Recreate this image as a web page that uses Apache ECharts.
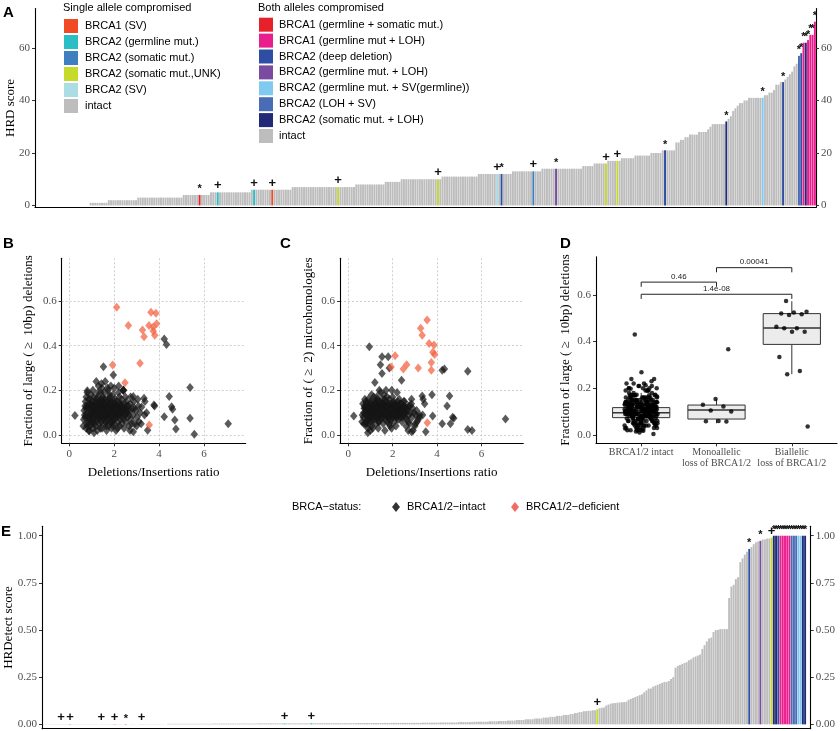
<!DOCTYPE html>
<html>
<head>
<meta charset="utf-8">
<title>HRD figure</title>
<script src="https://cdn.jsdelivr.net/npm/echarts@6.0.0/dist/echarts.min.js"></script>
<style>
html,body{margin:0;padding:0;background:#ffffff;}
#chart{width:840px;height:731px;}
</style>
</head>
<body>
<div id="chart"></div>
<script>
// ---------------- categories & colours ----------------
const singleKeys = ['or','cy','st','yl','lb','in'];
const singleLabels = ['BRCA1 (SV)','BRCA2 (germline mut.)','BRCA2 (somatic mut.)','BRCA2 (somatic mut.,UNK)','BRCA2 (SV)','intact'];
const bothKeys = ['r1','p1','dd','pu','sk','ls','nv','in'];
const bothLabels = ['BRCA1 (germline + somatic mut.)','BRCA1 (germline mut + LOH)','BRCA2 (deep deletion)','BRCA2 (germline mut. + LOH)','BRCA2 (germline mut. + SV(germline))','BRCA2 (LOH + SV)','BRCA2 (somatic mut. + LOH)','intact'];
const palette = {in:'#bdbdbd', or:'#f04b24', cy:'#2bbfc5', st:'#3d7fbf', yl:'#c6da2c', lb:'#abdde5',
                 r1:'#e6212a', p1:'#ea1d8d', dd:'#2f4da2', pu:'#7a4ba0', sk:'#80c9f0', ls:'#4a6cb4', nv:'#202a76'};

// ---------------- panel A : HRD score (runs: value, count, status, marker) ----------------
const hrdRuns = [
 [0,24],[1,8],[2,13],[3,20],
 [4,7],[4,1,'r1','*'],[4,4],
 [5,3],[5,1,'cy','+'],[5,14],
 [6,1],[6,1,'cy','+'],[6,7],[6,1,'or','+'],[6,8],
 [7,20],[7,1,'yl','+'],[7,7],
 [8,13],[9,7],
 [10,16],[10,1,'yl','+'],[10,1],
 [11,16],
 [12,8],[12,1,'lb','+'],[12,1],[12,1,'dd','*'],[12,4],
 [13,9],[13,1,'st','+'],[13,3],
 [14,6],[14,1,'pu','*'],[14,11],
 [15,5],[16,5],[16,1,'yl','+'],
 [17,4],[17,1,'yl','+'],[17,1],
 [18,6],[19,7],[20,5],
 [21,1],[21,1,'dd','*'],[21,4],
 [24,2],[25,2],[26,2],[27,4],[28,4],[29,1],[30,1],[31,6],[32,1,'nv','*'],
 [33,1],[34,1],[36,1],[37,1],[38,1],[39,2],[40,2],[41,6],[41,1,'sk','*'],
 [42,2],[43,2],[44,1],[46,2],[47,1],[47,1,'dd','*'],
 [48,1],[49,1],[50,1],[51,1],[53,1],[54,1],
 [57,1,'ls','*'],[58,1,'dd','*'],[62,1,'p1','*'],[62,1,'nv','*'],[63,1,'p1','*'],[65,2,'p1','*'],[70,1,'p1','*']
];
const hrdTicks = [0,20,40,60];

// ---------------- panel E : HRDetect score (runs) ----------------
const hrdetectRuns = [
 [0.001,8],[0.002,1,'yl','+'],[0.001,3],[0.002,1,'st','+'],[0.001,13],[0.002,1,'lb','+'],[0.001,5],[0.002,1,'or','+'],[0.001,4],[0.002,1,'r1','*'],[0.001,6],[0.002,1,'yl','+'],[0.001,11],
 [0.003,20],[0.004,20],[0.005,12],[0.005,1,'cy','+'],[0.005,11],[0.006,1,'cy','+'],[0.006,20],[0.007,15],[0.008,14],
 [0.009,8],[0.010,8],[0.012,7],[0.014,7],
 [0.016,4],[0.018,4],[0.020,4],[0.023,4],[0.027,4],[0.031,4],[0.036,3],[0.040,3],
 [0.045,3],[0.050,3],[0.055,2],[0.060,2],[0.065,2],
 [0.070,2],[0.072,2],[0.075,2],[0.080,1,'yl','+'],
 [0.085,1],[0.088,1],[0.090,1],[0.100,1],[0.105,1],[0.110,1],[0.112,1],[0.113,1],[0.115,1],[0.116,1],
 [0.117,1],[0.118,1],[0.120,1],[0.130,1],[0.135,1],[0.140,1],[0.145,1],[0.150,1],[0.155,1],
 [0.160,1],[0.170,1],[0.180,1],[0.190,2],[0.200,1],[0.205,1],[0.210,1],
 [0.215,1],[0.220,1],[0.225,2],[0.230,1],[0.240,1],[0.250,1],
 [0.300,1],[0.310,1],[0.315,1],[0.320,1],[0.325,1],[0.330,1],
 [0.340,1],[0.345,1],[0.355,1],[0.360,1],
 [0.365,1],[0.370,1],[0.400,1],[0.420,1],
 [0.440,1],[0.455,1],[0.460,1],
 [0.490,1],[0.500,2],[0.505,4],
 [0.670,1],[0.730,1],[0.740,1],[0.770,1],[0.780,1],[0.860,1],[0.880,1],[0.900,1],[0.915,1],
 [0.930,1,'dd','*'],[0.940,1],[0.955,1],[0.965,1],[0.970,1],[0.973,1,'pu','*'],[0.980,2],[0.985,2],[0.990,1,'yl','+'],
 [1,1,'nv','*'],[1,1,'nv','*'],[1,1,'dd','*'],[1,5,'p1','*'],[1,3,'ls','*'],[1,2,'sk','*'],[1,2,'nv','*']
];
const hrdetectSlots = 344;
const hrdetectTicks = [0,0.25,0.5,0.75,1];

// ---------------- panels B, C : [del/ins ratio, frac large del, frac microhomology, group] ----------------
const bcIntact = [
 [0.62,0.04,0.06],[0.66,0.11,0.14],[0.7,0.08,0.1],[0.72,0.15,0.12],[0.75,0.03,0.05],[0.78,0.13,0.09],[0.8,0.19,0.15],[0.82,0.06,0.12],[0.85,0.1,0.07],[0.86,0.16,0.11],
 [0.88,0.02,0.03],[0.9,0.12,0.16],[0.92,0.07,0.13],[0.94,0.14,0.08],[0.95,0.09,0.1],[0.97,0.18,0.12],[0.98,0.05,0.09],[1.0,0.11,0.14],[1.02,0.13,0.06],[1.03,0.08,0.11],
 [1.05,0.15,0.13],[1.06,0.03,0.04],[1.08,0.1,0.12],[1.1,0.17,0.09],[1.11,0.06,0.15],[1.13,0.12,0.1],[1.14,0.09,0.07],[1.16,0.14,0.12],[1.18,0.04,0.08],[1.19,0.11,0.13],
 [1.21,0.07,0.11],[1.22,0.16,0.14],[1.24,0.13,0.09],[1.25,0.02,0.05],[1.27,0.1,0.12],[1.28,0.19,0.17],[1.3,0.08,0.1],[1.31,0.12,0.08],[1.33,0.05,0.13],[1.34,0.15,0.11],
 [1.36,0.09,0.06],[1.37,0.11,0.15],[1.39,0.14,0.1],[1.4,0.06,0.09],[1.42,0.1,0.13],[1.43,0.23,0.12],[1.45,0.13,0.07],[1.46,0.03,0.11],[1.48,0.08,0.14],[1.49,0.17,0.1],
 [1.51,0.11,0.08],[1.52,0.07,0.12],[1.54,0.14,0.16],[1.55,0.09,0.1],[1.57,0.12,0.05],[1.58,0.05,0.11],[1.6,0.16,0.13],[1.61,0.1,0.09],[1.63,0.08,0.14],[1.64,0.13,0.1],
 [1.66,0.02,0.12],[1.67,0.11,0.07],[1.69,0.15,0.11],[1.7,0.07,0.15],[1.72,0.2,0.12],[1.73,0.09,0.09],[1.75,0.12,0.13],[1.76,0.04,0.06],[1.78,0.14,0.1],[1.79,0.1,0.14],
 [1.81,0.17,0.11],[1.82,0.06,0.08],[1.84,0.12,0.12],[1.85,0.09,0.16],[1.87,0.15,0.1],[1.88,0.03,0.04],[1.9,0.11,0.13],[1.91,0.08,0.09],[1.93,0.13,0.12],[1.94,0.18,0.07],
 [1.96,0.07,0.11],[1.97,0.1,0.14],[1.99,0.14,0.1],[2.0,0.05,0.08],[2.02,0.12,0.13],[2.03,0.16,0.11],[2.05,0.09,0.15],[2.06,0.11,0.06],[2.08,0.02,0.1],[2.09,0.13,0.12],
 [2.11,0.08,0.09],[2.12,0.15,0.14],[2.14,0.1,0.11],[2.16,0.06,0.13],[2.17,0.12,0.08],[2.19,0.19,0.12],[2.2,0.09,0.1],[2.22,0.14,0.15],[2.24,0.04,0.07],[2.25,0.11,0.12],
 [2.27,0.07,0.09],[2.29,0.13,0.13],[2.3,0.1,0.11],[2.32,0.16,0.1],[2.34,0.05,0.14],[2.36,0.12,0.08],[2.38,0.08,0.12],[2.4,0.2,0.11],[2.42,0.11,0.06],[2.44,0.03,0.1],
 [2.46,0.14,0.13],[2.48,0.09,0.09],[2.5,0.12,0.12],[2.53,0.06,0.15],[2.55,0.15,0.1],[2.58,0.1,0.08],[2.6,0.08,0.12],[2.63,0.13,0.07],[2.66,0.04,0.11],[2.7,0.11,0.13],
 [2.73,0.17,0.09],[2.76,0.07,0.05],[2.8,0.12,0.1],[2.84,0.09,0.14],[2.88,0.15,0.08],[2.92,0.05,0.02],[2.96,0.11,0.1],[3.02,0.08,0.05],[3.08,0.13,0.11],[3.15,0.1,0.07],
 [0.68,0.09,0.08],[0.74,0.12,0.13],[0.84,0.08,0.06],[0.96,0.1,0.11],[1.04,0.12,0.1],[1.12,0.1,0.11],[1.2,0.09,0.12],[1.26,0.12,0.1],[1.32,0.1,0.11],[1.38,0.12,0.12],
 [1.44,0.1,0.09],[1.5,0.13,0.12],[1.56,0.11,0.11],[1.62,0.12,0.1],[1.68,0.09,0.12],[1.74,0.11,0.11],[1.8,0.13,0.12],[1.86,0.1,0.1],[1.92,0.12,0.11],[1.98,0.09,0.12],
 [2.04,0.11,0.1],[2.1,0.1,0.11],[2.18,0.12,0.12],[2.26,0.1,0.1],[2.35,0.11,0.11],[1.15,0.15,0.17],[1.35,0.07,0.03],[1.55,0.19,0.14],[1.65,0.04,0.02],[1.85,0.06,0.05],
 [2.15,0.03,0.04],[0.9,0.14,0.05],[1.0,0.06,0.02],[1.25,0.17,0.15],[1.45,0.15,0.19],[1.75,0.16,0.17],[1.95,0.04,0.03],[2.3,0.14,0.16],[2.6,0.11,0.04],[1.1,0.01,0.03],
 [0.64,0.07,0.09],[0.7,0.13,0.05],[0.76,0.09,0.12],[0.79,0.05,0.1],[0.83,0.12,0.14],[0.87,0.08,0.09],[0.91,0.16,0.13],[0.93,0.04,0.07],[0.99,0.13,0.15],[1.01,0.09,0.08],
 [1.07,0.07,0.1],[1.09,0.13,0.07],[1.13,0.05,0.13],[1.17,0.11,0.09],[1.23,0.1,0.14],[1.29,0.14,0.12],[1.33,0.08,0.08],[1.39,0.03,0.06],[1.41,0.16,0.15],[1.47,0.12,0.1],
 [1.53,0.09,0.14],[1.59,0.14,0.08],[1.61,0.06,0.12],[1.65,0.1,0.16],[1.71,0.13,0.09],[1.77,0.08,0.13],[1.79,0.18,0.1],[1.83,0.1,0.07],[1.89,0.14,0.14],[1.93,0.06,0.1],
 [1.99,0.11,0.09],[2.01,0.15,0.12],[2.07,0.08,0.14],[2.13,0.13,0.09],[2.15,0.09,0.12],[2.21,0.11,0.08],[2.23,0.17,0.13],[2.28,0.09,0.13],[2.33,0.13,0.09],[2.37,0.1,0.14],
 [2.43,0.07,0.08],[2.47,0.12,0.11],[2.52,0.1,0.13],[2.57,0.13,0.1],[2.65,0.09,0.12],[2.72,0.14,0.06],[2.78,0.05,0.13],[2.9,0.12,0.12],[3.05,0.16,0.09],[3.2,0.05,0.08],
 [1.05,0.2,0.18],[1.3,0.22,0.16],[1.6,0.24,0.18],[1.7,0.21,0.2],[2.0,0.21,0.17],[2.2,0.22,0.19],[1.4,0.19,0.2],[0.75,0.17,0.16],[2.5,0.17,0.15],[2.7,0.02,0.02],
 [1.2,0.13,0.11],[1.4,0.11,0.1],[1.6,0.09,0.1],[1.8,0.11,0.09],[2.0,0.1,0.11],[1.3,0.11,0.1],[1.5,0.1,0.11],[1.7,0.12,0.1],[1.9,0.09,0.11],[2.1,0.12,0.1],
 [0.25,0.087,0.085],[0.8,0.04,0.05],[0.88,0.018,0.01],[0.8,0.198,0.12],[0.95,0.13,0.395],[1.52,0.306,0.35,'m'],[1.45,0.21,0.315],[1.52,0.16,0.275],[1.8,0.14,0.35],[1.85,0.22,0.3],
 [1.2,0.24,0.235],[1.96,0.269,0.2],[2.4,0.2,0.245],[2.42,0.2,0.1],[2.85,0.172,0.16],[3.33,0.165,0.175],[3.37,0.15,0.16],[3.22,0.125,0.09],[3.44,0.1,0.14],[3.49,0.021,0.015],
 [3.77,0.134,0.18],[3.8,0.13,0.085],[4.23,0.43,0.29],[4.33,0.405,0.295,'m'],[4.45,0.172,0.13],[4.56,0.127,0.175],[4.6,0.115,0.05],[4.23,0.082,0.05],[4.7,0.067,0.08],[4.75,0.027,0.075],
 [5.38,0.213,0.285],[5.38,0.075,0.025],[5.57,0.004,0.02],[7.08,0.051,0.072],[3.1,0.06,0.06],[3.0,0.04,0.04],[2.85,0.015,0.015],[3.35,0.09,0.09]
];
const bcDeficient = [
 [2.11,0.572,0.355],[3.64,0.549,0.41],[3.86,0.545,0.403],[2.63,0.49,0.315],[3.55,0.49,0.515],
 [3.89,0.498,0.36],[3.74,0.484,0.325],[3.26,0.47,0.478],[3.74,0.466,0.29],[3.33,0.44,0.447],
 [3.81,0.447,0.37],[3.15,0.321,0.30],[1.93,0.313,0.305],[2.48,0.234,0.295],[3.56,0.045,0.055]
];
const ratioTicks = [0,2,4,6];
const fracTicks = [0,0.2,0.4,0.6];

// ---------------- panel D ----------------
const dGroups = ['BRCA1/2 intact','Monoallelic\nloss of BRCA1/2','Biallelic\nloss of BRCA1/2'];
const dMono = [0.367,0.154,0.129,0.122,0.105,0.1,0.06,0.058,0.057];
const dBi = [0.574,0.528,0.525,0.521,0.517,0.514,0.464,0.457,0.457,0.442,0.442,0.334,0.274,0.26,0.036];
const dBox = [[0.01,0.074,0.095,0.117,0.18],[0.05,0.068,0.107,0.128,0.153],[0.26,0.388,0.458,0.52,0.573]];
const dPvals = [[1,2,0.655,'0.46'],[2,3,0.717,'0.00041'],[1,3,0.603,'1.4e-08']];

// ---------------- helpers ----------------
const SERIF = 'Liberation Serif', SANS = 'Liberation Sans';
function expand(runs){
  const out = [];
  runs.forEach(r => { for (let k = 0; k < r[1]; k++) out.push({v:r[0], c:r[2] || 'in', m:r[3] || ''}); });
  return out;
}
function barData(items){
  return items.map(d => {
    const o = {value:d.v, itemStyle:{color:palette[d.c]}};
    if (d.m) o.label = {show:true, formatter:d.m, fontSize:d.m === '+' ? 13 : 11, fontWeight:'bold', color:'#111', fontFamily:SANS};
    return o;
  });
}
function axLine(){ return {show:true, onZero:false, lineStyle:{color:'#000', width:1.1}}; }
function tickCfg(vals){ return {show:true, length:3, customValues:vals, lineStyle:{color:'#333', width:1}}; }
function labCfg(vals, fmt, extra){ return Object.assign({show:true, customValues:vals, formatter:fmt, color:'#4d4d4d', fontFamily:SERIF, fontSize:11, margin:5}, extra || {}); }
const nameStyle = {fontFamily:SERIF, fontSize:13, color:'#000'};
const gridSplit = {show:true, lineStyle:{type:[2,2], color:'#bcbcbc', width:0.7}};

const aItems = expand(hrdRuns);
const eItems = expand(hrdetectRuns);
const aCats = aItems.map((d, i) => 'a' + i);
const eCats = []; for (let i = 0; i < hrdetectSlots; i++) eCats.push('e' + i);

const golden = 0.6180339887;
function jitter(i){ return ((i * golden) % 1 - 0.5) * 0.44; }
const dIntactY = bcIntact.filter(s => s[3] !== 'm').map(s => s[1]);

// ---------------- graphic (legends, panel letters) ----------------
const graphics = [];
function addText(x, y, text, font, opts){
  graphics.push({type:'text', x:x, y:y, silent:true, style:Object.assign({text:text, font:font, fill:'#000', align:'left', verticalAlign:'middle'}, opts || {})});
}
[['A',3,13],['B',3,244],['C',280,244],['D',560,244],['E',1,532]].forEach(p => addText(p[1], p[2], p[0], 'bold 15px ' + SANS));
addText(63, 8, 'Single allele compromised', '11px ' + SANS);
singleKeys.forEach((k, i) => {
  const cy = 26 + i * 16;
  graphics.push({type:'rect', silent:true, shape:{x:64, y:cy - 7, width:14, height:14}, style:{fill:palette[k]}});
  addText(85, cy, singleLabels[i], '11px ' + SANS);
});
addText(258, 8, 'Both alleles compromised', '11px ' + SANS);
bothKeys.forEach((k, i) => {
  const cy = 24.7 + i * 15.9;
  graphics.push({type:'rect', silent:true, shape:{x:259, y:cy - 7, width:14, height:14}, style:{fill:palette[k]}});
  addText(279, cy, bothLabels[i], '11px ' + SANS);
});
addText(292, 507, 'BRCA\u2212status:', '11px ' + SANS);
function diamond(cx, cy, col){
  graphics.push({type:'polygon', silent:true, shape:{points:[[cx, cy - 5],[cx + 4, cy],[cx, cy + 5],[cx - 4, cy]]}, style:{fill:col}});
}
diamond(396, 507, '#333333');
addText(407, 507, 'BRCA1/2\u2212intact', '11px ' + SANS);
diamond(515, 507, '#f36b63');
addText(526, 507, 'BRCA1/2\u2212deficient', '11px ' + SANS);

// ---------------- option ----------------
const blackPt = 'rgba(22,22,22,0.88)', redPt = 'rgba(242,95,62,0.9)';
const option = {
  animation:false,
  backgroundColor:'#ffffff',
  grid:[
    {left:35, right:24, top:8.6, bottom:523.7, outerBoundsMode:'none'},
    {left:61.7, right:594.3, top:258.3, bottom:287.7, outerBoundsMode:'none'},
    {left:340, right:316.7, top:258.3, bottom:287.7, outerBoundsMode:'none'},
    {left:596, right:3, top:256.7, bottom:287.7, outerBoundsMode:'none'},
    {left:42, right:29.3, top:526.3, bottom:2.3, outerBoundsMode:'none'}
  ],
  xAxis:[
    {type:'category', gridIndex:0, data:aCats, axisLine:axLine(), axisTick:{show:false}, axisLabel:{show:false}, splitLine:{show:false}},
    {type:'value', gridIndex:1, min:-0.34, max:7.86, axisLine:axLine(), axisTick:tickCfg(ratioTicks), axisLabel:labCfg(ratioTicks, v => String(v)), splitLine:gridSplit,
     name:'Deletions/Insertions ratio', nameLocation:'middle', nameGap:23, nameMoveOverlap:false, nameTextStyle:nameStyle},
    {type:'value', gridIndex:2, min:-0.37, max:7.88, axisLine:axLine(), axisTick:tickCfg(ratioTicks), axisLabel:labCfg(ratioTicks, v => String(v)), splitLine:gridSplit,
     name:'Deletions/Insertions ratio', nameLocation:'middle', nameGap:23, nameMoveOverlap:false, nameTextStyle:nameStyle},
    {type:'value', gridIndex:3, min:0.4, max:3.6, axisLine:axLine(), axisTick:tickCfg([1,2,3]),
     axisLabel:labCfg([1,2,3], v => dGroups[Math.round(v) - 1], {fontSize:10, lineHeight:11, margin:4}), splitLine:{show:false}},
    {type:'category', gridIndex:4, data:eCats, axisLine:axLine(), axisTick:{show:false}, axisLabel:{show:false}, splitLine:{show:false}}
  ],
  yAxis:[
    {type:'value', gridIndex:0, min:-0.7, max:75, axisLine:axLine(), axisTick:tickCfg(hrdTicks), axisLabel:labCfg(hrdTicks, v => String(v)), splitLine:{show:false},
     name:'HRD score', nameLocation:'middle', nameGap:18, nameMoveOverlap:false, nameTextStyle:nameStyle},
    {type:'value', gridIndex:0, position:'right', min:-0.7, max:75, axisLine:axLine(), axisTick:tickCfg(hrdTicks), axisLabel:labCfg(hrdTicks, v => String(v)), splitLine:{show:false}},
    {type:'value', gridIndex:1, min:-0.037, max:0.791, axisLine:axLine(), axisTick:tickCfg(fracTicks), axisLabel:labCfg(fracTicks, v => v.toFixed(1)), splitLine:gridSplit,
     name:'Fraction of large ( \u2265  10bp) deletions', nameLocation:'middle', nameGap:27, nameMoveOverlap:false, nameTextStyle:nameStyle},
    {type:'value', gridIndex:2, min:-0.037, max:0.791, axisLine:axLine(), axisTick:tickCfg(fracTicks), axisLabel:labCfg(fracTicks, v => v.toFixed(1)), splitLine:gridSplit,
     name:'Fraction of ( \u2265  2) microhomologies', nameLocation:'middle', nameGap:25, nameMoveOverlap:false, nameTextStyle:nameStyle},
    {type:'value', gridIndex:3, min:-0.036, max:0.764, axisLine:axLine(), axisTick:tickCfg(fracTicks), axisLabel:labCfg(fracTicks, v => v.toFixed(1)), splitLine:{show:false},
     name:'Fraction of large ( \u2265  10bp) deletions', nameLocation:'middle', nameGap:24, nameMoveOverlap:false, nameTextStyle:nameStyle},
    {type:'value', gridIndex:4, min:-0.023, max:1.05, axisLine:axLine(), axisTick:tickCfg(hrdetectTicks), axisLabel:labCfg(hrdetectTicks, v => v.toFixed(2)), splitLine:{show:false},
     name:'HRDetect score', nameLocation:'middle', nameGap:27, nameMoveOverlap:false, nameTextStyle:nameStyle},
    {type:'value', gridIndex:4, position:'right', min:-0.023, max:1.05, axisLine:axLine(), axisTick:tickCfg(hrdetectTicks), axisLabel:labCfg(hrdetectTicks, v => v.toFixed(2)), splitLine:{show:false}}
  ],
  graphic:graphics,
  series:[
    {type:'bar', xAxisIndex:0, yAxisIndex:0, data:barData(aItems), barCategoryGap:'14%', label:{position:'top', distance:0}},
    {type:'scatter', xAxisIndex:1, yAxisIndex:2, symbol:'diamond', symbolSize:[7.5,9], itemStyle:{color:blackPt}, data:bcIntact.map(s => [s[0], s[1]])},
    {type:'scatter', xAxisIndex:1, yAxisIndex:2, symbol:'diamond', symbolSize:[7.5,9], itemStyle:{color:redPt}, data:bcDeficient.map(s => [s[0], s[1]])},
    {type:'scatter', xAxisIndex:2, yAxisIndex:3, symbol:'diamond', symbolSize:[7.5,9], itemStyle:{color:blackPt}, data:bcIntact.map(s => [s[0], s[2]])},
    {type:'scatter', xAxisIndex:2, yAxisIndex:3, symbol:'diamond', symbolSize:[7.5,9], itemStyle:{color:redPt}, data:bcDeficient.map(s => [s[0], s[2]])},
    {type:'custom', xAxisIndex:3, yAxisIndex:4, data:dBox.map((b, i) => [i + 1].concat(b)), encode:{x:0, y:[1,2,3,4,5]},
     renderItem:(params, api) => {
       const x = api.value(0), mn = api.value(1), q1 = api.value(2), md = api.value(3), q3 = api.value(4), mx = api.value(5);
       const hw = 0.38;
       const tl = api.coord([x - hw, q3]), br = api.coord([x + hw, q1]);
       const top = api.coord([x, mx]), bot = api.coord([x, mn]), q3p = api.coord([x, q3]), q1p = api.coord([x, q1]);
       const ml = api.coord([x - hw, md]), mr = api.coord([x + hw, md]);
       const st = {stroke:'#333', lineWidth:1};
       return {type:'group', children:[
         {type:'line', shape:{x1:top[0], y1:top[1], x2:q3p[0], y2:q3p[1]}, style:st},
         {type:'line', shape:{x1:q1p[0], y1:q1p[1], x2:bot[0], y2:bot[1]}, style:st},
         {type:'rect', shape:{x:tl[0], y:tl[1], width:br[0] - tl[0], height:br[1] - tl[1]}, style:{fill:'#ececec', stroke:'#333', lineWidth:1}},
         {type:'line', shape:{x1:ml[0], y1:ml[1], x2:mr[0], y2:mr[1]}, style:{stroke:'#333', lineWidth:1.4}}
       ]};
     }},
    {type:'scatter', xAxisIndex:3, yAxisIndex:4, symbol:'circle', symbolSize:4.5, itemStyle:{color:'#000'}, data:dIntactY.map((y, i) => [1 + jitter(i), y])},
    {type:'scatter', xAxisIndex:3, yAxisIndex:4, symbol:'circle', symbolSize:4.5, itemStyle:{color:'#000'}, data:dMono.map((y, i) => [2 + jitter(i + 3), y])},
    {type:'scatter', xAxisIndex:3, yAxisIndex:4, symbol:'circle', symbolSize:4.5, itemStyle:{color:'#000'}, data:dBi.map((y, i) => [3 + jitter(i + 7), y])},
    {type:'custom', xAxisIndex:3, yAxisIndex:4, data:dPvals.map(p => [p[0], p[1], p[2]]), encode:{x:[0,1], y:2},
     renderItem:(params, api) => {
       const p = dPvals[params.dataIndex];
       const a = api.coord([p[0], p[2] - 0.02]), b = api.coord([p[0], p[2]]), c = api.coord([p[1], p[2]]), d = api.coord([p[1], p[2] - 0.02]);
       return {type:'group', children:[
         {type:'polyline', shape:{points:[a, b, c, d]}, style:{stroke:'#222', lineWidth:1, fill:null}},
         {type:'text', x:(b[0] + c[0]) / 2, y:b[1] - 1.5, style:{text:p[3], fontFamily:SANS, fontSize:8, fill:'#222', align:'center', verticalAlign:'bottom'}}
       ]};
     }},
    {type:'bar', xAxisIndex:4, yAxisIndex:5, data:barData(eItems), barCategoryGap:'14%', label:{position:'top', distance:0}}
  ]
};
const chart = echarts.init(document.getElementById('chart'), null, {renderer:'canvas'});
chart.setOption(option);
</script>
</body>
</html>
